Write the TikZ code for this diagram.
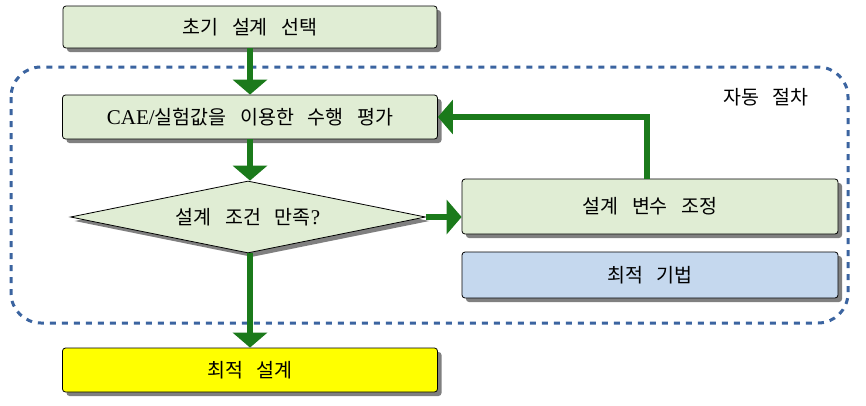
\documentclass[tikz,border=0pt]{standalone}
\usepackage{fontspec}
\newfontfamily\kr{Noto Sans CJK KR}
\newfontfamily\lat{Liberation Serif}
\usetikzlibrary{shapes.geometric,arrows.meta,shadows}
\definecolor{boxgreen}{HTML}{E0EDD4}
\definecolor{boxblue}{HTML}{C5D8EE}
\definecolor{boxyellow}{RGB}{255,255,0}
\definecolor{arrgreen}{HTML}{1B7A1B}
\definecolor{dotblue}{HTML}{3B64A0}
\definecolor{shadowgray}{HTML}{808080}
\newcommand{\wsp}{\hspace{0.7em}}
\tikzset{
  procbox/.style={draw=black, line width=0.8pt, rounded corners=3pt, fill=boxgreen,
    inner sep=0pt, font=\kr\fontsize{19.5}{23}\selectfont,
    drop shadow={shadow xshift=4pt, shadow yshift=-4pt, fill=shadowgray, opacity=1}},
  decbox/.style={procbox, shape=diamond, rounded corners=0pt, aspect=5},
  flow/.style={draw=arrgreen, line width=6pt, -{Triangle[width=34pt,length=15pt]}},
}
\begin{document}
\begin{tikzpicture}[x=1pt,y=-1pt]
\useasboundingbox (0,0) rectangle (866,405);
% automatic procedure region
\draw[dotblue, line width=3pt, dash pattern=on 6pt off 6pt, rounded corners=30pt]
  (11,67) rectangle (848,323);
\node[font=\kr\fontsize{19.5}{23}\selectfont, anchor=center] (auto) at (766,97) {자동\wsp 절차};
% nodes
\node[procbox, minimum width=374pt, minimum height=42pt] (init) at (250,27) {초기\wsp 설계\wsp 선택};
\node[procbox, minimum width=375pt, minimum height=44pt] (eval) at (250,117) {{\lat\fontsize{21}{23}\selectfont CAE/}실험값을\wsp 이용한\wsp 수행\wsp 평가};
\node[decbox, minimum width=355pt, minimum height=72pt] (dec) at (248,217) {설계\wsp 조건\wsp 만족{\lat\fontsize{21}{23}\selectfont ?}};
\node[procbox, fill=boxyellow, minimum width=375pt, minimum height=44pt] (final) at (250,370) {최적\wsp 설계};
\node[procbox, minimum width=376pt, minimum height=55pt] (adj) at (650,206.5) {설계\wsp 변수\wsp 조정};
\node[procbox, fill=boxblue, minimum width=376pt, minimum height=46pt] (opt) at (650,275) {최적\wsp 기법};
\coordinate (fb) at (647,117);
% connectors
\draw[flow] (init.south) -- (eval.north);
\draw[flow] (eval.south) -- (eval.south |- dec.north);
\draw[flow] (eval.south |- dec.south) -- (final.north);
\draw[flow] (dec.east) -- (dec.east -| adj.west);
\draw[flow] (adj.north -| fb) -- (fb) -- (eval.east);
\end{tikzpicture}
\end{document}
